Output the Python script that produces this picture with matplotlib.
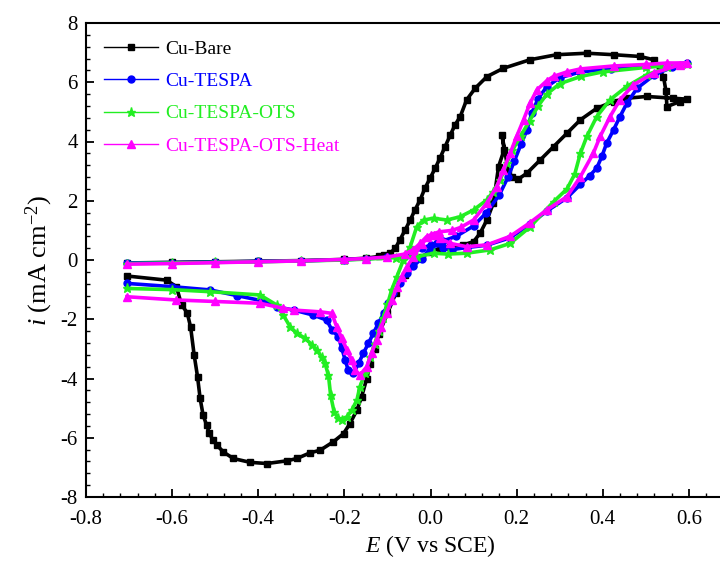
import numpy as np
import matplotlib
matplotlib.use('Agg')
import matplotlib.pyplot as plt
from matplotlib.ticker import MultipleLocator, FixedLocator

plt.rcParams['font.family'] = ['Liberation Serif', 'DejaVu Serif']
plt.rcParams['mathtext.fontset'] = 'custom'
plt.rcParams['mathtext.rm'] = 'Liberation Serif'
plt.rcParams['mathtext.it'] = 'Liberation Serif:italic'
plt.rcParams['axes.unicode_minus'] = False

# potential (V vs SCE) and current density (mA cm-2)
bare_E = [-0.705, -0.6, -0.5, -0.4, -0.3, -0.2, -0.15, -0.12, -0.109, -0.094, -0.082, -0.071,
          -0.059, -0.047, -0.036, -0.024, -0.013, -0.001, 0.011, 0.022, 0.034, 0.046, 0.057,
          0.069, 0.084, 0.104, 0.131, 0.169, 0.231, 0.293, 0.363, 0.425, 0.487, 0.518, 0.541,
          0.547, 0.549, 0.58, 0.595,
          0.564, 0.502, 0.456, 0.425, 0.386, 0.348, 0.317, 0.286, 0.255, 0.224, 0.204, 0.189,
          0.181, 0.166, 0.171, 0.158, 0.146, 0.131, 0.115, 0.1, 0.076, 0.046, 0.022, -0.001,
          -0.02, -0.04, -0.06, -0.08, -0.1, -0.12, -0.13, -0.14, -0.148, -0.16, -0.171, -0.187,
          -0.202, -0.226, -0.256, -0.28, -0.31, -0.334, -0.38, -0.419, -0.458, -0.481, -0.496,
          -0.506, -0.514, -0.52, -0.528, -0.535, -0.541, -0.549, -0.557, -0.565, -0.578, -0.59,
          -0.613, -0.705]
bare_i = [-0.1, -0.08, -0.06, -0.04, -0.02, 0.02, 0.06, 0.12, 0.17, 0.23, 0.39, 0.68,
          1.01, 1.35, 1.69, 2.03, 2.42, 2.76, 3.1, 3.44, 3.83, 4.22, 4.56,
          4.84, 5.41, 5.8, 6.19, 6.47, 6.76, 6.93, 6.98, 6.93, 6.87, 6.76, 6.19,
          5.69, 5.18, 5.35, 5.43,
          5.46, 5.52, 5.46, 5.35, 5.12, 4.73, 4.28, 3.83, 3.38, 2.93, 2.73, 2.81,
          2.98, 4.22, 3.72, 3.15, 1.92, 1.35, 0.9, 0.62, 0.51, 0.45, 0.39, 0.28,
          0.1, -0.15, -0.5, -1.1, -1.8, -2.5, -3.0, -3.5, -4.0, -4.62, -5.07, -5.52,
          -5.86, -6.14, -6.42, -6.51, -6.7, -6.78, -6.87, -6.83, -6.7, -6.48, -6.25,
          -6.06, -5.83, -5.57, -5.24, -4.67, -3.94, -3.19, -2.27, -1.78, -1.52, -0.9,
          -0.68, -0.54]

tespa_E = [-0.705, -0.6, -0.5, -0.4, -0.3, -0.2, -0.15, -0.1, -0.06, -0.04, -0.02, 0.0, 0.015,
           0.03, 0.05, 0.084, 0.131, 0.185, 0.23, 0.27, 0.317, 0.348, 0.37, 0.386, 0.398, 0.409,
           0.425, 0.44, 0.456, 0.48, 0.52, 0.56, 0.595,
           0.5, 0.42, 0.348, 0.3, 0.27, 0.25, 0.235, 0.224, 0.21, 0.195, 0.18, 0.16, 0.13, 0.1,
           0.06, 0.03, 0.0, -0.02, -0.04, -0.055, -0.071, -0.086, -0.098, -0.109, -0.121, -0.133,
           -0.144, -0.156, -0.167, -0.179, -0.191, -0.198, -0.206, -0.214, -0.229, -0.241,
           -0.272, -0.318, -0.357, -0.39, -0.45, -0.512, -0.6, -0.705]
tespa_i = [-0.1, -0.09, -0.07, -0.05, -0.03, 0.01, 0.04, 0.09, 0.15, 0.25, 0.4, 0.5, 0.56,
           0.4, 0.35, 0.42, 0.5, 0.75, 1.2, 1.65, 2.1, 2.55, 2.85, 3.1, 3.5, 3.94,
           4.39, 4.84, 5.29, 5.8, 6.25, 6.5, 6.65,
           6.55, 6.45, 6.35, 6.15, 5.85, 5.45, 4.95, 4.39, 3.9, 3.35, 2.8, 2.2, 1.6, 1.15,
           0.8, 0.65, 0.4, 0.05, -0.2, -0.45, -0.79, -1.13, -1.46, -1.8, -2.14, -2.48,
           -2.81, -3.15, -3.49, -3.83, -3.72, -3.38, -2.98, -2.59, -2.36, -2.03,
           -1.86, -1.69, -1.58, -1.38, -1.2, -1.01, -0.9, -0.79]

ots_E = [-0.705, -0.6, -0.5, -0.4, -0.3, -0.2, -0.15, -0.08, -0.032, 0.007, 0.04, 0.084, 0.138,
         0.185, 0.23, 0.286, 0.317, 0.335, 0.348, 0.363, 0.386, 0.417, 0.456, 0.502, 0.55, 0.595,
         0.5, 0.4, 0.35, 0.3, 0.27, 0.25, 0.23, 0.21, 0.19, 0.177, 0.162, 0.145, 0.131, 0.1,
         0.069, 0.038, 0.007, -0.016, -0.032, -0.047, -0.063, -0.078, -0.09, -0.1, -0.11, -0.12,
         -0.13, -0.14, -0.152, -0.164, -0.171, -0.183, -0.194, -0.206, -0.214, -0.224, -0.232,
         -0.237, -0.245, -0.253, -0.264, -0.275, -0.291, -0.31, -0.326, -0.342, -0.357, -0.396,
         -0.512, -0.6, -0.705]
ots_i = [-0.12, -0.1, -0.08, -0.06, -0.03, 0.0, 0.03, 0.08, 0.11, 0.23, 0.2, 0.23, 0.34,
         0.56, 1.1, 1.97, 2.4, 2.9, 3.6, 4.17, 4.84, 5.41, 5.86, 6.25, 6.5, 6.62,
         6.5, 6.35, 6.2, 5.95, 5.6, 5.2, 4.7, 4.2, 3.7, 3.27, 2.7, 2.3, 2.03, 1.69,
         1.46, 1.35, 1.41, 1.35, 1.12, 0.45, 0.0, -0.56, -1.0, -1.5, -1.95, -2.4,
         -2.85, -3.27, -3.83, -4.28, -4.73, -5.07, -5.29, -5.41, -5.35, -5.12, -4.56,
         -3.89, -3.49, -3.27, -3.04, -2.87, -2.64, -2.48, -2.25, -1.86, -1.52, -1.18,
         -1.07, -1.0, -0.96]

heat_E = [-0.705, -0.6, -0.5, -0.4, -0.3, -0.2, -0.15, -0.1, -0.06, -0.04, -0.024, -0.009, 0.007,
          0.022, 0.046, 0.084, 0.131, 0.185, 0.23, 0.27, 0.317, 0.348, 0.378, 0.394, 0.417, 0.44,
          0.471, 0.518, 0.58, 0.595,
          0.55, 0.5, 0.425, 0.348, 0.317, 0.286, 0.27, 0.247, 0.231, 0.216, 0.2, 0.185, 0.169,
          0.154, 0.131, 0.1, 0.07, 0.05, 0.02, 0.0, -0.02, -0.04, -0.055, -0.067, -0.078, -0.09,
          -0.102, -0.114, -0.125, -0.137, -0.148, -0.164, -0.175, -0.183, -0.194, -0.206, -0.218,
          -0.229, -0.256, -0.318, -0.342, -0.396, -0.5, -0.59, -0.705]
heat_i = [-0.14, -0.12, -0.09, -0.06, -0.03, 0.02, 0.05, 0.1, 0.2, 0.35, 0.56, 0.79, 0.84,
          0.73, 0.56, 0.45, 0.51, 0.8, 1.25, 1.69, 2.14, 2.81, 3.6, 4.17, 4.84, 5.41,
          5.91, 6.31, 6.59, 6.65,
          6.65, 6.6, 6.55, 6.45, 6.35, 6.2, 6.05, 5.74, 5.29, 4.73, 4.17, 3.6, 3.04,
          2.48, 1.92, 1.35, 1.1, 1.0, 0.95, 0.85, 0.55, 0.1, -0.23, -0.56, -0.9, -1.35,
          -1.8, -2.25, -2.7, -3.15, -3.6, -3.89, -3.72, -3.38, -3.04, -2.64, -2.25,
          -1.8, -1.75, -1.69, -1.63, -1.46, -1.4, -1.35, -1.24]

labels = ['Cu-Bare', 'Cu-TESPA', 'Cu-TESPA-OTS', 'Cu-TESPA-OTS-Heat']
colors = ['black', '#0000ff', '#22ee22', '#ff00ff']
x_ticks = [-0.8, -0.6, -0.4, -0.2, 0.0, 0.2, 0.4, 0.6]

fig = plt.figure(figsize=(7.2, 5.67), dpi=100)
ax = fig.add_axes([86/720, 70/567, 689/720, 474/567])

ax.plot(bare_E, bare_i, '-s', color=colors[0], ms=4.5, lw=2.6, label=labels[0])
ax.plot(tespa_E, tespa_i, '-o', color=colors[1], ms=5, lw=2.6, label=labels[1])
ax.plot(ots_E, ots_i, '-*', color=colors[2], ms=6.5, lw=2.6, label=labels[2])
ax.plot(heat_E, heat_i, '-^', color=colors[3], ms=5.5, lw=2.6, label=labels[3])

ax.set_xlim(-0.8, 0.8)
ax.set_ylim(-8, 8)
ax.xaxis.set_major_locator(FixedLocator(x_ticks))
ax.xaxis.set_minor_locator(MultipleLocator(0.04))
ax.yaxis.set_major_locator(MultipleLocator(2))
ax.yaxis.set_minor_locator(MultipleLocator(0.4))
ax.xaxis.set_major_formatter(plt.FuncFormatter(lambda v, p: '%.1f' % v))
ax.tick_params(which='both', direction='in', top=False, right=False, labelsize=15)
ax.tick_params(which='major', length=6, width=1.3)
ax.tick_params(which='minor', length=3, width=1.0)
ax.tick_params(axis='x', which='major', pad=9)
ax.tick_params(axis='y', which='major', pad=6)
for s in ax.spines.values():
    s.set_linewidth(1.5)

ax.set_xlabel('$E$ (V vs SCE)', fontsize=17, labelpad=3)
ax.set_ylabel('$i$ (mA cm$^{-2}$)', fontsize=19, labelpad=4)

leg = ax.legend(loc='upper left', bbox_to_anchor=(0.0, 1.0), frameon=False, fontsize=14,
                handlelength=2.8, numpoints=1, labelspacing=0.75, handletextpad=0.4)
for t, c in zip(leg.get_texts(), colors):
    t.set_color(c)
for h in leg.legend_handles:
    h.set_linewidth(1.0)

fig.savefig('out.png', dpi=100)
